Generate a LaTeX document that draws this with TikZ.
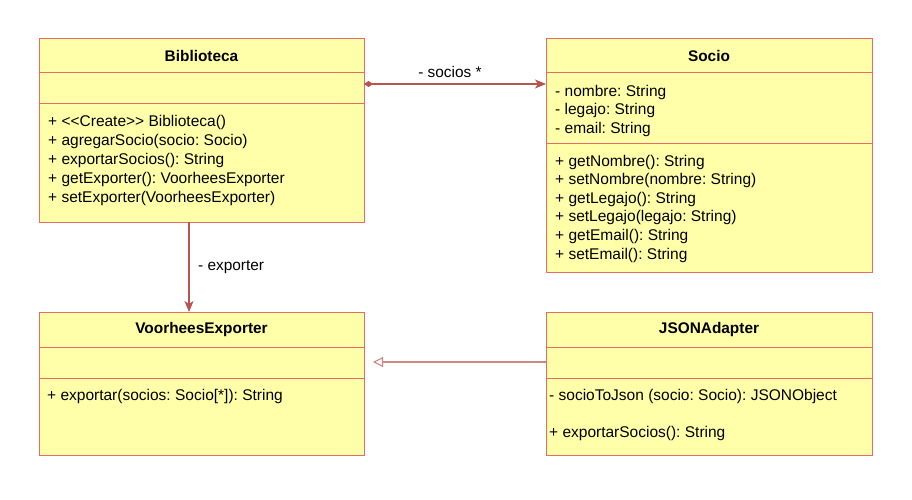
\documentclass[tikz,border=0pt]{standalone}
\usepackage{fontspec}
\newfontfamily\umlfont{Liberation Sans}
\usetikzlibrary{arrows.meta,calc}
\definecolor{boxfill}{HTML}{FFFFAA}
\definecolor{boxline}{HTML}{EA6B66}
\definecolor{arrline}{HTML}{B85450}
\frenchspacing
\begin{document}
\begin{tikzpicture}[x=1pt,y=-1pt,
  comp/.style={draw=boxline, fill=boxfill, line width=1pt, anchor=north west, inner sep=0pt, outer sep=0pt},
  ttl/.style={font=\umlfont\fontsize{15.4}{18.8}\selectfont\bfseries\frenchspacing, inner sep=0pt},
  ln/.style={font=\umlfont\fontsize{15.5}{18.8}\selectfont\frenchspacing, anchor=base west, inner sep=0pt},
  lbl/.style={font=\umlfont\fontsize{15.4}{18.8}\selectfont\frenchspacing, inner sep=0pt},
  conn/.style={draw=arrline, line width=1.1pt},
]
\useasboundingbox (0,0) rectangle (912,500);
\fill[white] (0,0) rectangle (912,500);

% Biblioteca
\node[comp, minimum width=325pt, minimum height=34pt] (bibT) at (39,39) {};
\node[comp, minimum width=325pt, minimum height=31pt] (bibA) at (39,73) {};
\node[comp, minimum width=325pt, minimum height=118pt] (bibM) at (39,104) {};
\node[ttl] (bibN) at (bibT.center) {Biblioteca};
\foreach \t [count=\i] in {{+ <<Create>> Biblioteca()},{+ agregarSocio(socio: Socio)},{+ exportarSocios(): String},{+ getExporter(): VoorheesExporter},{+ setExporter(VoorheesExporter)}}
  \node[ln] (bibL\i) at (48,{127+18.75*(\i-1)}) {\t};

% Socio
\node[comp, minimum width=326pt, minimum height=34pt] (socT) at (546,39) {};
\node[comp, minimum width=326pt, minimum height=70pt] (socA) at (546,73) {};
\node[comp, minimum width=326pt, minimum height=129pt] (socM) at (546,143) {};
\node[ttl] (socN) at (socT.center) {Socio};
\foreach \t [count=\i] in {{- nombre: String},{- legajo: String},{- email: String}}
  \node[ln] (socL\i) at (555,{96.5+18.5*(\i-1)}) {\t};
\foreach \t [count=\i] in {{+ getNombre(): String},{+ setNombre(nombre: String)},{+ getLegajo(): String},{+ setLegajo(legajo: String)},{+ getEmail(): String},{+ setEmail(): String}}
  \node[ln] (socM\i) at (555,{166+18.6*(\i-1)}) {\t};

% VoorheesExporter
\node[comp, minimum width=325pt, minimum height=35pt] (vooT) at (39,312) {};
\node[comp, minimum width=325pt, minimum height=31pt] (vooA) at (39,347) {};
\node[comp, minimum width=325pt, minimum height=77pt] (vooM) at (39,378) {};
\node[ttl] (vooN) at (vooT.center) {VoorheesExporter};
\node[ln] (vooL1) at (47,400) {+ exportar(socios: Socio[*]): String};

% JSONAdapter
\node[comp, minimum width=326pt, minimum height=35pt] (jsnT) at (546,312) {};
\node[comp, minimum width=326pt, minimum height=31pt] (jsnA) at (546,347) {};
\node[comp, minimum width=326pt, minimum height=77pt] (jsnM) at (546,378) {};
\node[ttl] (jsnN) at (jsnT.center) {JSONAdapter};
\node[ln] (jsnL1) at (549,400) {- socioToJson (socio: Socio): JSONObject};
\node[ln] (jsnL2) at (549,437) {+ exportarSocios(): String};

% connectors
\draw[conn, {Diamond[length=9pt,width=6pt]}-{Stealth[length=11pt,width=9pt,inset=3pt]}]
  ($(bibA.north east)+(0,11)$) -- ($(socA.north west)+(0,11)$);
\node[lbl] (lblSocios) at (450,72) {- socios *};

\draw[conn, -{Stealth[length=11pt,width=9pt,inset=3pt]}]
  ($(bibM.south west)+(150,0)$) -- ($(vooT.north west)+(150,0)$);
\node[lbl, anchor=west] (lblExp) at (198,267) {- exporter};

\draw[conn, draw=arrline!70, -{Triangle[open,length=10pt,width=10pt]}]
  ($(jsnA.north west)+(0,15)$) -- ($(vooA.north east)+(9,15)$);
\end{tikzpicture}
\end{document}
